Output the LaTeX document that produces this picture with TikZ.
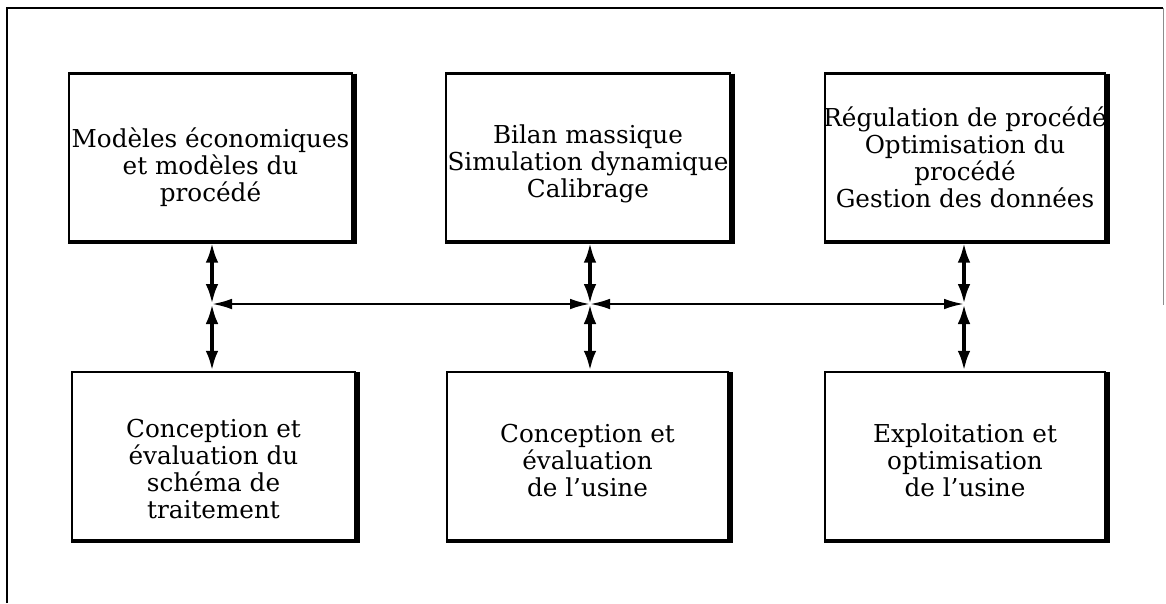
\documentclass[tikz,border=0pt]{standalone}
\usepackage{fontspec}
\setmainfont{DejaVu Serif}
\usetikzlibrary{arrows.meta}
\tikzset{
  blockbox/.style={draw, line width=1.8pt, minimum width=#1*0.75pt, minimum height=168*0.75pt,
    inner sep=0pt},
  boxtext/.style={align=center, inner sep=0pt, font=\fontsize{18.5}{20.3}\selectfont},
  shadowedge/.style={line width=3.2pt},
  dbl/.style={{Latex[length=15pt,width=9.5pt]}-{Latex[length=15pt,width=9.5pt]}, line width=2.8pt},
  hline/.style={{Latex[length=15pt,width=8pt]}-{Latex[length=15pt,width=8pt]}, line width=1.8pt},
  frame/.style={line width=2pt}
}
\begin{document}
\begin{tikzpicture}[x=0.75pt,y=-0.75pt]
\useasboundingbox (0,0) rectangle (1166,603);
% outer frame (left, top, faint right)
\coordinate (fa) at (7,603);
\coordinate (fb) at (7,8);
\coordinate (fc) at (1163,8);
\coordinate (fd) at (1163,305);
\draw[frame] (fa) -- (fb) -- (fc);
\draw[line width=0.6pt, black!45] (fc) -- (fd);

% top boxes
\node[blockbox=283, label={[boxtext,yshift=-7pt]center:Modèles économiques\\et modèles du\\procédé}] (t1) at (210.5,157.5) {};
\node[blockbox=284, label={[boxtext,yshift=-4.5pt]center:Bilan massique\\Simulation dynamique\\Calibrage}] (t2) at (588,157.5) {};
\node[blockbox=280, label={[boxtext,yshift=0pt]center:Régulation de procédé\\Optimisation du\\procédé\\Gestion des données}] (t3) at (965,157.5) {};
% bottom boxes
\node[blockbox=283, label={[boxtext,yshift=-10pt]center:Conception et\\évaluation du\\schéma de\\traitement}] (b1) at (213.5,456) {};
\node[blockbox=281, label={[boxtext,yshift=-3.5pt]center:Conception et\\évaluation\\de l’usine}] (b2) at (587.5,456) {};
\node[blockbox=280, label={[boxtext,yshift=-3.5pt]center:Exploitation et\\optimisation\\de l’usine}] (b3) at (965,456) {};

% shadowed right edges
\foreach \n in {t1,t2,t3,b1,b2,b3}{
  \draw[shadowedge] ([xshift=1.5pt,yshift=-1pt]\n.north east) -- ([xshift=1.5pt,yshift=-0.75pt]\n.south east);
  \draw[line width=1.2pt] ([yshift=-0.6pt]\n.south west) -- ([xshift=3pt,yshift=-0.6pt]\n.south east);
}

% hubs
\coordinate (h1) at (212,304);
\coordinate (h2) at (590,304);
\coordinate (h3) at (964,304);

% vertical arrows
\draw[dbl] (t1.south -| h1) -- (h1);
\draw[dbl] (h1) -- (b1.north -| h1);
\draw[dbl] (t2.south -| h2) -- (h2);
\draw[dbl] (h2) -- (b2.north -| h2);
\draw[dbl] (t3.south -| h3) -- (h3);
\draw[dbl] (h3) -- (b3.north -| h3);

% horizontal arrows
\draw[hline] (h1) -- (h2);
\draw[hline] (h2) -- (h3);
\end{tikzpicture}
\end{document}
